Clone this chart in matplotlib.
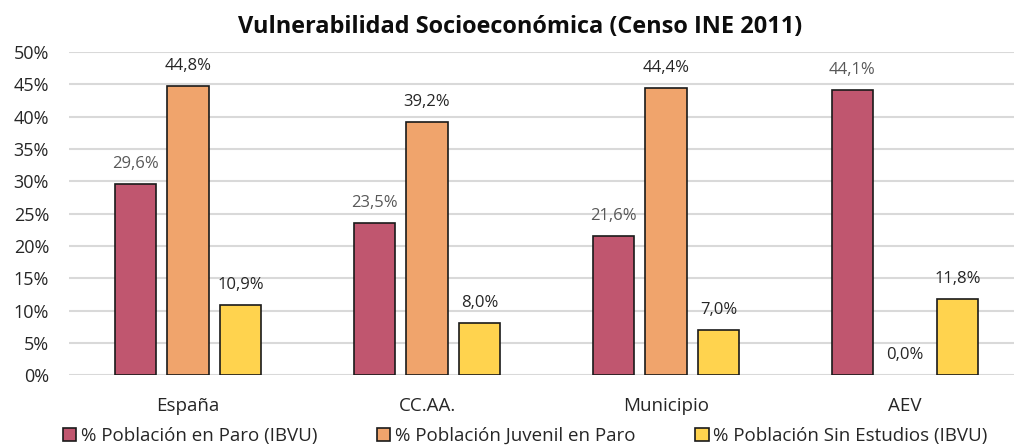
import matplotlib
matplotlib.use('Agg')
import matplotlib.pyplot as plt
import numpy as np

plt.rcParams['font.family'] = ['Open Sans', 'DejaVu Sans']

# data
categories = ['España', 'CC.AA.', 'Municipio', 'AEV']
series_names = ['% Población en Paro (IBVU)',
                '% Población Juvenil en Paro',
                '% Población Sin Estudios (IBVU)']
paro = [29.6, 23.5, 21.6, 44.1]
paro_juvenil = [44.8, 39.2, 44.4, 0.0]
sin_estudios = [10.9, 8.0, 7.0, 11.8]

colors = ['#C0566F', '#F0A46C', '#FFD34E']
label_colors = ['#595959', '#262626', '#262626']

fig = plt.figure(figsize=(10.14, 4.46), dpi=100)
ax = fig.add_axes([0.0676, 0.159, 0.9324, 0.724])

x = np.arange(len(categories))
width = 0.174
step = 0.22

for i, (vals, name) in enumerate(zip([paro, paro_juvenil, sin_estudios], series_names)):
    pos = x + (i - 1) * step
    vals = np.array(vals)
    # zero-height bars get no outline
    lw = np.where(vals > 0, 1.2, 0.0)
    ax.bar(pos, vals / 100, width, color=colors[i], edgecolor='#1a1a1a',
           linewidth=lw, label=name, zorder=3)
    for px, v in zip(pos, vals):
        ax.annotate(f'{v:.1f}%'.replace('.', ','), (px, v / 100),
                    xytext=(0, 12), textcoords='offset pixels',
                    ha='center', va='bottom', fontsize=12,
                    color=label_colors[i])

ax.set_xlim(-0.5, 3.456)
ax.set_ylim(0, 0.5)
ticks = np.arange(0, 0.51, 0.05)
ax.set_yticks(ticks)
ax.set_yticklabels([f'{int(round(t * 100))}%' for t in ticks])
ax.set_xticks(x)
ax.set_xticklabels(categories)
ax.tick_params(axis='both', length=0, colors='#262626')
ax.tick_params(axis='x', pad=16, labelsize=13.5)
ax.tick_params(axis='y', pad=14, labelsize=13)
ax.grid(axis='y', color='#D9D9D9', linewidth=1.5, zorder=0)
for s in ax.spines.values():
    s.set_visible(False)

fig.text(0.513, 0.94, 'Vulnerabilidad Socioeconómica (Censo INE 2011)',
         ha='center', va='center', fontsize=16.9, fontweight='bold', color='#0d0d0d')

leg = fig.legend(loc='center', bbox_to_anchor=(0.518, 0.022), ncol=3, frameon=False,
                 fontsize=13.5, handlelength=0.7, handleheight=0.7, handletextpad=0.25,
                 columnspacing=3.2, labelcolor='#262626')

fig.savefig('out.png', dpi=100)
